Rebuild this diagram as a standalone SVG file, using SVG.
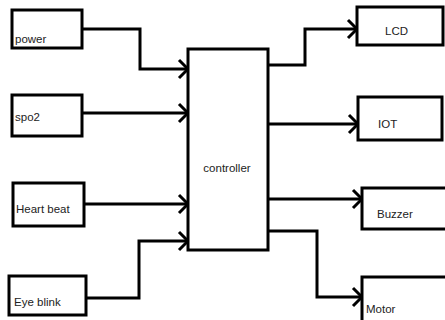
<svg xmlns="http://www.w3.org/2000/svg" width="445" height="320" viewBox="0 0 445 320">
<style>
.box{fill:#fff;stroke:#000;stroke-width:3}
.lbl{font-family:"Liberation Sans",Arial,sans-serif;font-size:11.5px;fill:#222}
.con{fill:none;stroke:#000;stroke-width:3;marker-end:url(#chev)}
</style>
<defs>
<marker id="chev" markerUnits="userSpaceOnUse" viewBox="-12 -11 14 22" refX="0" refY="0" markerWidth="14" markerHeight="22" orient="auto">
<path d="M-9,-9 L0,0 L-9,9" fill="none" stroke="#000" stroke-width="3"/>
</marker>
</defs>
<rect width="445" height="320" fill="#fff"/>
<g id="connectors">
<path class="con" d="M82,29 H140 V69 H188"/>
<path class="con" d="M82,113 H188"/>
<path class="con" d="M84,204 H188"/>
<path class="con" d="M86,298 H139 V241 H188"/>
<path class="con" d="M268,65 H305 V29 H357"/>
<path class="con" d="M268,124 H358"/>
<path class="con" d="M268,199 H362"/>
<path class="con" d="M268,231 H317 V297 H362"/>
</g>
<g id="power"><rect class="box" x="12" y="10" width="70" height="38"/><text class="lbl" x="15" y="43">power</text></g>
<g id="spo2"><rect class="box" x="12" y="95" width="70" height="41"/><text class="lbl" x="15" y="121">spo2</text></g>
<g id="heartbeat"><rect class="box" x="13" y="183" width="71" height="43"/><text class="lbl" x="16" y="213">Heart beat</text></g>
<g id="eyeblink"><rect class="box" x="9" y="276" width="77" height="39"/><text class="lbl" x="14" y="306">Eye blink</text></g>
<g id="controller"><rect class="box" x="188" y="49" width="80" height="201"/><text class="lbl" x="227" y="172" text-anchor="middle">controller</text></g>
<g id="lcd"><rect class="box" x="357" y="7" width="86" height="38"/><text class="lbl" x="385" y="35">LCD</text></g>
<g id="iot"><rect class="box" x="358" y="97" width="84" height="43"/><text class="lbl" x="378" y="128">IOT</text></g>
<g id="buzzer"><rect class="box" x="362" y="188" width="86" height="41"/><text class="lbl" x="377" y="218">Buzzer</text></g>
<g id="motor"><rect class="box" x="362" y="277" width="86" height="50"/><text class="lbl" x="366" y="313">Motor</text></g>
</svg>
